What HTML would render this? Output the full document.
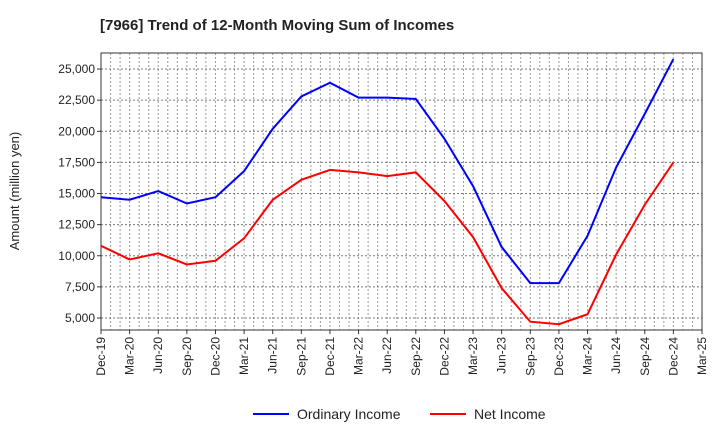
<!DOCTYPE html>
<html><head><meta charset="utf-8"><style>
body{margin:0;background:#fff;font-family:"Liberation Sans",sans-serif}
</style></head><body>
<svg id="c" width="720" height="440" xmlns="http://www.w3.org/2000/svg" font-family="Liberation Sans, sans-serif"></svg>
<script>
const categories=["Dec-19","Mar-20","Jun-20","Sep-20","Dec-20","Mar-21","Jun-21","Sep-21","Dec-21","Mar-22","Jun-22","Sep-22","Dec-22","Mar-23","Jun-23","Sep-23","Dec-23","Mar-24","Jun-24","Sep-24","Dec-24","Mar-25"];
const ordinaryIncome=[14700,14500,15200,14200,14700,16800,20200,22800,23900,22700,22700,22600,19400,15600,10700,7800,7800,11600,17100,21400,25800];
const netIncome=[10800,9700,10200,9300,9600,11400,14500,16100,16900,16700,16400,16700,14400,11500,7400,4700,4500,5300,10100,14100,17500];
const yTicks=[5000,7500,10000,12500,15000,17500,20000,22500,25000];
const svg=document.getElementById('c');const NS="http://www.w3.org/2000/svg";
const L=101,R=702,T=53,B=330,yMin=4035,yMax=26290;
const x=i=>L+(R-L)*i/(categories.length-1);
const y=v=>B-(v-yMin)/(yMax-yMin)*(B-T);
function mk(t,a,p){const e=document.createElementNS(NS,t);for(const k in a)e.setAttribute(k,a[k]);(p||svg).appendChild(e);return e;}
let e=mk('text',{x:100,y:30,'font-size':15,'font-weight':'bold',fill:'#222'});e.textContent="[7966]  Trend of 12-Month Moving Sum of Incomes";


const g=mk('g',{});


for(let m=1;m<(categories.length-1)*3;m++){const xx=L+(R-L)*m/((categories.length-1)*3);mk('line',{x1:xx,x2:xx,y1:T,y2:B,stroke:'#999','stroke-width':1,'stroke-dasharray':'2,2'},g);}
yTicks.forEach(v=>{mk('line',{x1:L,x2:R,y1:y(v),y2:y(v),stroke:'#777','stroke-width':1,'stroke-dasharray':'2,2'},g);
const t=mk('text',{x:L-6,y:y(v)+4,'font-size':12,'text-anchor':'end',fill:'#222'});t.textContent=v.toLocaleString('en-US');


mk('line',{x1:L-4,x2:L,y1:y(v),y2:y(v),stroke:'#333'});});
categories.forEach((c,i)=>{mk('line',{x1:x(i),x2:x(i),y1:B,y2:B+4,stroke:'#333'});
const t=mk('text',{transform:`translate(${x(i)+4},${B+7}) rotate(-90)`,'font-size':12,'text-anchor':'end',fill:'#222'});t.textContent=c;

});
const fr=mk('rect',{x:L,y:T,width:R-L,height:B-T,fill:'none',stroke:'#333','stroke-width':1});


e=mk('text',{transform:`translate(19,191) rotate(-90)`,'font-size':13,'text-anchor':'middle',fill:'#222'});e.textContent="Amount (million yen)";


function line(d,col,name){const p=mk('polyline',{points:d.map((v,i)=>x(i)+','+y(v)).join(' '),fill:'none',stroke:col,'stroke-width':2});

}
line(ordinaryIncome,'#0000ff','ordinary-income-line');
line(netIncome,'#ff0000','net-income-line');
function leg(x0,col,txt,name){const gg=mk('g',{});


mk('line',{x1:x0,x2:x0+36,y1:414,y2:414,stroke:col,'stroke-width':2},gg);const t=mk('text',{x:x0+44,y:419,'font-size':14,fill:'#222'},gg);t.textContent=txt;}
leg(253,'#0000ff','Ordinary Income','legend-ordinary-income');
leg(430,'#ff0000','Net Income','legend-net-income');
</script></body></html>
